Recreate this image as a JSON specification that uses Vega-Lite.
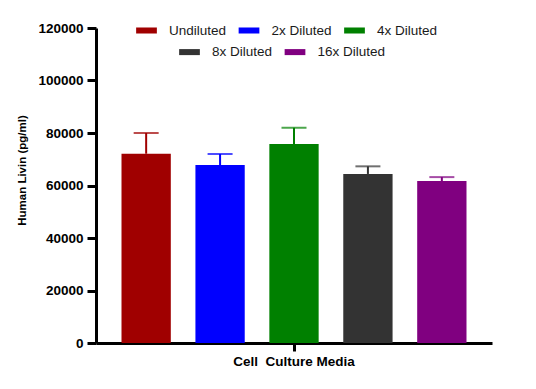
{
  "$schema": "https://vega.github.io/schema/vega-lite/v6.json",
  "width": 396,
  "height": 315,
  "autosize": {"type": "none"},
  "padding": {"left": 96, "top": 28, "right": 44, "bottom": 46},
  "background": "white",
  "config": {
    "view": {"stroke": null},
    "font": "Liberation Sans",
    "axis": {
      "grid": false,
      "domainColor": "black",
      "domainWidth": 3,
      "tickColor": "black",
      "tickWidth": 3,
      "labelFont": "Liberation Sans",
      "labelFontWeight": "bold",
      "labelColor": "black",
      "titleFont": "Liberation Sans",
      "titleFontWeight": "bold",
      "titleColor": "black"
    },
    "legend": {
      "orient": "none",
      "direction": "horizontal",
      "title": null,
      "padding": 0,
      "symbolType": "M-1,-0.29H1V0.29H-1Z",
      "symbolSize": 430,
      "symbolStrokeWidth": 0,
      "labelFont": "Liberation Sans",
      "labelFontSize": 13.5,
      "labelColor": "#1a1a1a",
      "labelOffset": 12,
      "columnPadding": 11.5
    }
  },
  "data": {
    "values": [
      {"media": "Cell\u00a0 Culture Media", "dilution": "Undiluted", "mean": 72100, "upper": 80000},
      {"media": "Cell\u00a0 Culture Media", "dilution": "2x Diluted", "mean": 67800, "upper": 72000},
      {"media": "Cell\u00a0 Culture Media", "dilution": "4x Diluted", "mean": 75800, "upper": 82000},
      {"media": "Cell\u00a0 Culture Media", "dilution": "8x Diluted", "mean": 64400, "upper": 67300},
      {"media": "Cell\u00a0 Culture Media", "dilution": "16x Diluted", "mean": 61700, "upper": 63200}
    ]
  },
  "encoding": {
    "x": {
      "field": "media",
      "type": "nominal",
      "scale": {"paddingInner": 0, "paddingOuter": 0},
      "axis": {"title": null, "labelAngle": 0, "tickSize": 8, "labelPadding": 3, "labelFontSize": 13.5}
    },
    "xOffset": {
      "field": "dilution",
      "type": "nominal",
      "sort": ["Undiluted", "2x Diluted", "4x Diluted", "8x Diluted", "16x Diluted"],
      "scale": {"domain": ["Undiluted", "2x Diluted", "4x Diluted", "8x Diluted", "16x Diluted"], "paddingInner": 0.333, "paddingOuter": 0.345}
    },
    "y": {
      "field": "mean",
      "type": "quantitative",
      "scale": {"domain": [0, 120000], "nice": false},
      "axis": {
        "title": "Human Livin (pg/ml)",
        "values": [0, 20000, 40000, 60000, 80000, 100000, 120000],
        "format": "d",
        "tickSize": 9,
        "labelPadding": 4,
        "labelFontSize": 13.5,
        "titleFontSize": 11.5,
        "titleX": -69,
        "titleY": 142,
        "titleBaseline": "bottom"
      }
    }
  },
  "layer": [
    {
      "transform": [{"filter": {"field": "dilution", "oneOf": ["Undiluted", "2x Diluted", "4x Diluted"]}}],
      "encoding": {
        "color": {
          "field": "dilution",
          "type": "nominal",
          "scale": {"domain": ["Undiluted", "2x Diluted", "4x Diluted"], "range": ["#A00000", "#0000FF", "#008000"]},
          "legend": {"legendX": 40, "legendY": -8}
        }
      },
      "layer": [
        {"mark": {"type": "bar", "opacity": 1}},
        {"mark": {"type": "rule", "strokeWidth": 2}, "encoding": {"y2": {"field": "upper"}}},
        {"mark": {"type": "tick", "size": 25, "thickness": 2}, "encoding": {"y": {"field": "upper", "type": "quantitative", "title": "Human Livin (pg/ml)"}}}
      ]
    },
    {
      "transform": [{"filter": {"field": "dilution", "oneOf": ["8x Diluted", "16x Diluted"]}}],
      "encoding": {
        "color": {
          "field": "dilution",
          "type": "nominal",
          "scale": {"domain": ["8x Diluted", "16x Diluted"], "range": ["#333333", "#800080"]},
          "legend": {"legendX": 83, "legendY": 13.6}
        }
      },
      "layer": [
        {"mark": {"type": "bar", "opacity": 1}},
        {"mark": {"type": "rule", "strokeWidth": 2}, "encoding": {"y2": {"field": "upper"}}},
        {"mark": {"type": "tick", "size": 25, "thickness": 2}, "encoding": {"y": {"field": "upper", "type": "quantitative", "title": "Human Livin (pg/ml)"}}}
      ]
    }
  ],
  "resolve": {"scale": {"color": "independent"}, "legend": {"color": "independent"}}
}
